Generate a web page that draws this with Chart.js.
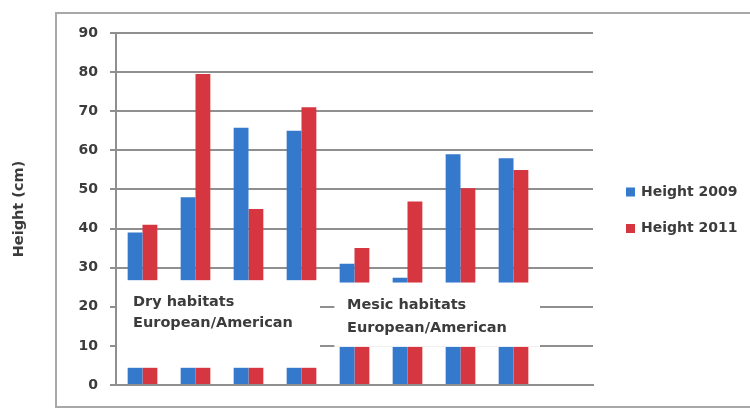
<!DOCTYPE html>
<html>
<head>
<meta charset="utf-8">
<script src="https://cdn.jsdelivr.net/npm/chart.js@4.4.1/dist/chart.umd.min.js"></script>
<style>
  html, body { margin: 0; padding: 0; background: #fff; }
  #wrap { width: 750px; height: 410px; }
</style>
</head>
<body>
<div id="wrap"><canvas id="heightChart" width="750" height="410"></canvas></div>
<script>
// ---------------- Daten ----------------
// 8 Gruppen + eine leere Kategorie am Ende (wie im Original)
const categories = ["D1", "D2", "D3", "D4", "M1", "M2", "M3", "M4", ""];
const seriesNames = ["Height 2009", "Height 2011"];
const height2009 = [39, 48, 65.8, 65, 31, 27.4, 59, 58, null];
const height2011 = [41, 79.5, 45, 71, 35, 46.9, 50.3, 55, null];
const yTicks = [0, 10, 20, 30, 40, 50, 60, 70, 80, 90];
const boxLabels = [
    ["Dry habitats", "European/American"],
    ["Mesic habitats", "European/American"]
];

const BLUE = "#3479cb";
const RED = "#d5363f";
const GRID = "#8f8f8f";
const TEXT = "#3c3c3c";

// weiße Textfelder über den Balken (wie Excel-Textbox)
const boxes = [
    { x0: -0.48, x1: 3.35, y0: 4.4, y1: 26.8, textX: 133, textY: 302, gap: 21, lines: boxLabels[0] },
    { x0: 3.62, x1: 7.5, y0: 9.75, y1: 26.2, textX: 347, textY: 305, gap: 23, lines: boxLabels[1] }
];

const overlayPlugin = {
    id: "overlay",
    beforeDraw(chart) {
        const ctx = chart.ctx;
        ctx.save();
        ctx.fillStyle = "#fff";
        ctx.fillRect(0, 0, chart.width, chart.height);
        ctx.strokeStyle = "#a8a8a8";
        ctx.lineWidth = 2;
        ctx.strokeRect(56, 13, 700, 394);
        ctx.restore();
    },
    afterDatasetsDraw(chart) {
        const ctx = chart.ctx;
        const xs = chart.scales.x, ys = chart.scales.y;
        ctx.save();
        boxes.forEach(b => {
            const left = xs.getPixelForValue(b.x0);
            const right = xs.getPixelForValue(b.x1);
            const top = ys.getPixelForValue(b.y1);
            const bottom = ys.getPixelForValue(b.y0);
            ctx.fillStyle = "#fff";
            ctx.fillRect(left, top, right - left, bottom - top);
            ctx.fillStyle = TEXT;
            ctx.font = "bold 14.5px 'DejaVu Sans'";
            ctx.textBaseline = "middle";
            ctx.textAlign = "left";
            b.lines.forEach((t, i) => ctx.fillText(t, b.textX, b.textY + i * b.gap));
        });
        ctx.restore();
    },
    afterDraw(chart) {
        const ctx = chart.ctx;
        ctx.save();
        chart.data.datasets.forEach((ds, i) => {
            const y = 192 + i * 36.5;
            ctx.fillStyle = ds.backgroundColor;
            ctx.fillRect(626, y - 4.5, 9, 9);
            ctx.fillStyle = TEXT;
            ctx.font = "bold 14px 'DejaVu Sans'";
            ctx.textBaseline = "middle";
            ctx.fillText(ds.label, 641, y);
        });
        ctx.restore();
    }
};

new Chart(document.getElementById("heightChart"), {
    type: "bar",
    data: {
        labels: categories,
        datasets: [
            { label: seriesNames[0], data: height2009, backgroundColor: BLUE },
            { label: seriesNames[1], data: height2011, backgroundColor: RED }
        ]
    },
    options: {
        responsive: false,
        animation: false,
        devicePixelRatio: 1,
        layout: { padding: { left: 0, right: 157, top: 33, bottom: 25 } },
        datasets: { bar: { categoryPercentage: 0.56, barPercentage: 1 } },
        plugins: { legend: { display: false }, tooltip: { enabled: false } },
        scales: {
            x: {
                ticks: { display: false },
                grid: { display: false },
                border: { display: true, color: GRID, width: 2 },
                afterFit(scale) { scale.height = 0; }
            },
            y: {
                min: 0,
                max: 90,
                afterBuildTicks(scale) { scale.ticks = yTicks.map(v => ({ value: v })); },
                ticks: {
                    color: TEXT,
                    padding: 12,
                    font: { family: "DejaVu Sans", size: 14, weight: "bold" }
                },
                grid: { color: GRID, lineWidth: 2, tickLength: 6 },
                border: { display: true, color: GRID, width: 2 },
                title: {
                    display: true,
                    text: "Height (cm)",
                    color: TEXT,
                    padding: { top: 11, bottom: 0 },
                    font: { family: "DejaVu Sans", size: 14.5, weight: "bold" }
                },
                afterFit(scale) { scale.width = 116; }
            }
        }
    },
    plugins: [overlayPlugin]
});
</script>
</body>
</html>
